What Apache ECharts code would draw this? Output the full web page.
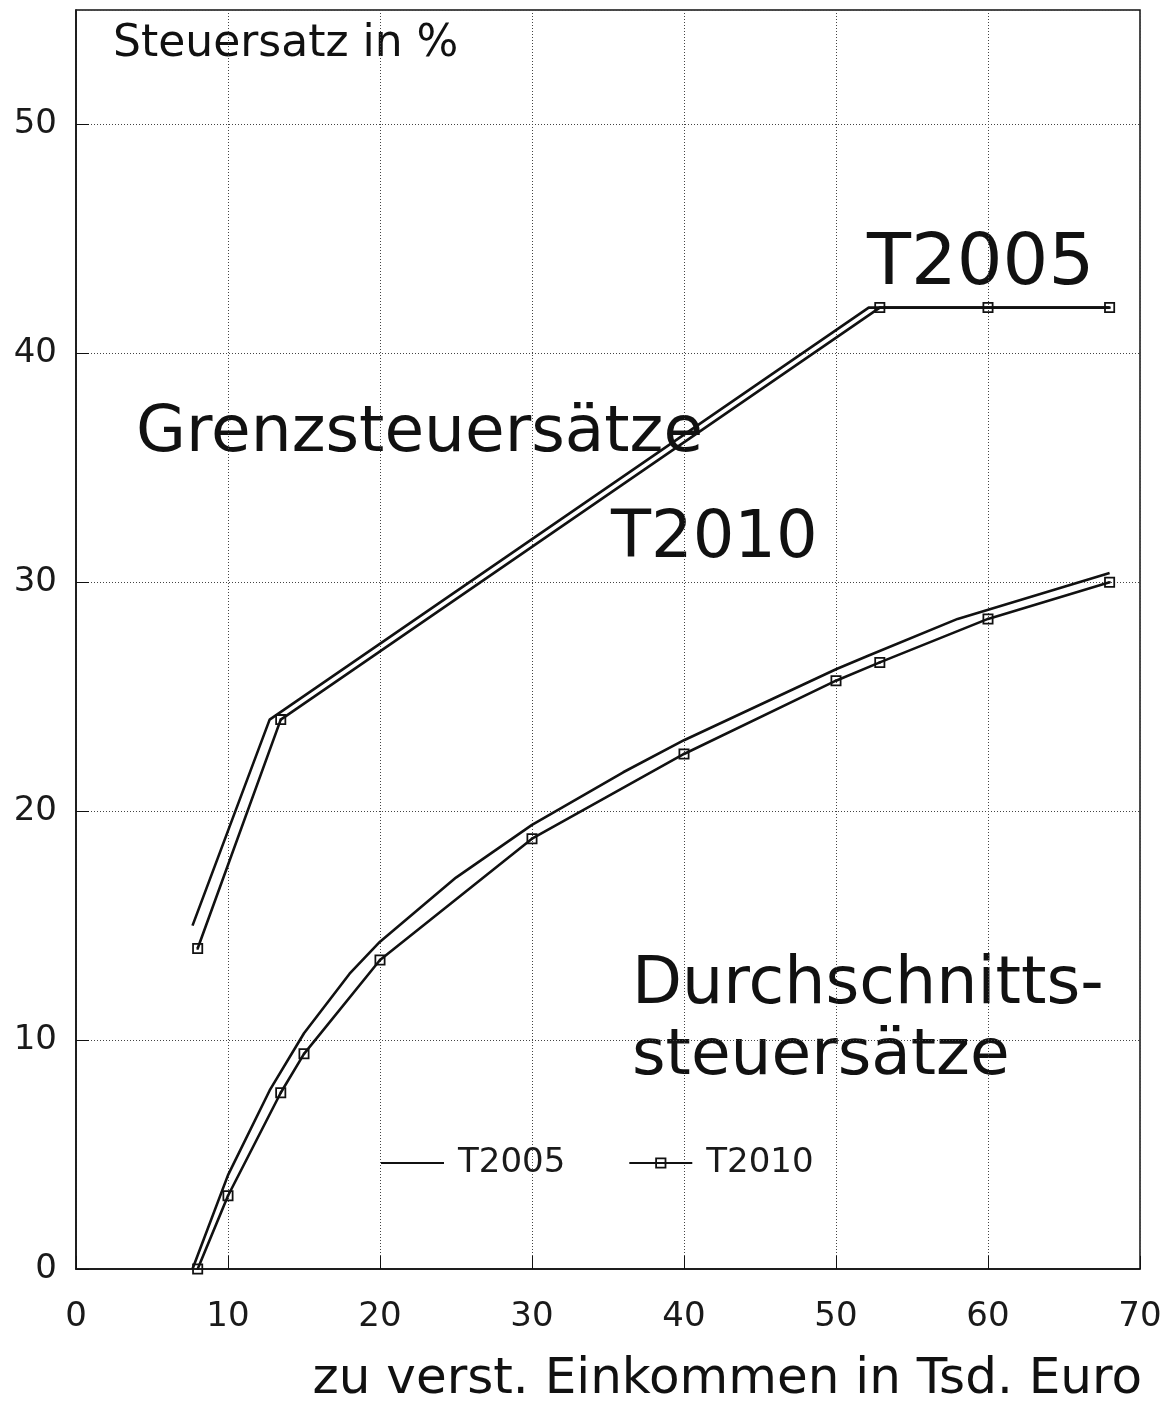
<!DOCTYPE html>
<html>
<head>
<meta charset="utf-8">
<script src="https://cdn.jsdelivr.net/npm/echarts@6/dist/echarts.min.js"></script>
<style>
html,body{margin:0;padding:0;background:#fff;}
#chart{width:1171px;height:1401px;}
</style>
</head>
<body>
<div id="chart"></div>
<script>
// Income in thousand Euro (x) and tax rates in % (y)
const xTicks = [0, 10, 20, 30, 40, 50, 60, 70];
const yTicks = [0, 10, 20, 30, 40, 50];

const incomeGrenz2005 = [7.664, 12.739, 52.152, 68];
const grenz2005 = [15, 24, 42, 42];

const incomeGrenz2010 = [8.004, 13.47, 52.882, 60, 68];
const grenz2010 = [14, 24, 42, 42, 42];

const incomeDurch2005 = [7.664, 10, 12.739, 15, 18, 20, 25, 30, 36, 40, 50, 52.152, 58, 68];
const durch2005 = [0, 4.1, 7.8, 10.3, 12.9, 14.3, 17.1, 19.4, 21.7, 23.1, 26.2, 26.8, 28.4, 30.4];

const incomeDurch2010 = [8.004, 10, 13.47, 15, 20, 30, 40, 50, 52.882, 60, 68];
const durch2010 = [0, 3.2, 7.7, 9.4, 13.5, 18.8, 22.5, 25.7, 26.5, 28.4, 30.0];

const zip = (xs, ys) => xs.map((x, i) => [x, ys[i]]);

const FONT = 'DejaVu Sans';
const markerPath = 'path://M0,0H10V10H0Z M1.6,1.6V8.4H8.4V1.6Z M4,4H6V6H4Z';

const chart = echarts.init(document.getElementById('chart'), null, {renderer: 'canvas'});

const lineStyle = {color: '#111', width: 2.6};

chart.setOption({
  backgroundColor: '#fff',
  animation: false,
  grid: {
    left: 76, top: 10, right: 31, bottom: 132,
    show: true, borderColor: '#111', borderWidth: 1.5, backgroundColor: 'transparent'
  },
  xAxis: {
    type: 'value', min: 0, max: 70, interval: 10,
    axisLine: {show: true, lineStyle: {color: '#111', width: 1.5}},
    axisTick: {show: true, inside: true, length: 13, lineStyle: {color: '#111', width: 1}},
    axisLabel: {
      margin: 31, color: '#1a1a1a', fontFamily: FONT, fontSize: 34,
      formatter: v => xTicks.includes(v) ? String(v) : ''
    },
    splitLine: {show: true, lineStyle: {color: '#444', width: 1, type: [1, 2]}}
  },
  yAxis: {
    type: 'value', min: 0, max: 55, interval: 10,
    axisLine: {show: true, lineStyle: {color: '#111', width: 1.5}},
    axisTick: {show: true, inside: true, length: 13, lineStyle: {color: '#111', width: 1}},
    axisLabel: {
      margin: 19, color: '#1a1a1a', fontFamily: FONT, fontSize: 34,
      showMaxLabel: false,
      formatter: v => yTicks.includes(v) ? String(v) : ''
    },
    splitLine: {show: true, lineStyle: {color: '#444', width: 1, type: [1, 2]}}
  },
  legend: {
    left: 380, top: 1146, padding: 0,
    itemWidth: 63, itemHeight: 14, itemGap: 63,
    textStyle: {fontFamily: FONT, fontSize: 34, color: '#1a1a1a', padding: [0, 0, 0, 9]},
    data: [
      {name: 'T2005', itemStyle: {color: 'rgba(0,0,0,0)', borderColor: 'rgba(0,0,0,0)', borderWidth: 0}},
      {name: 'T2010'}
    ]
  },
  series: [
    {
      name: 'T2005', type: 'line', data: zip(incomeGrenz2005, grenz2005),
      symbol: 'none', lineStyle: lineStyle, itemStyle: {color: '#111'}
    },
    {
      name: 'T2005', type: 'line', data: zip(incomeDurch2005, durch2005),
      symbol: 'none', lineStyle: lineStyle, itemStyle: {color: '#111'}
    },
    {
      name: 'T2010', type: 'line', data: zip(incomeGrenz2010, grenz2010),
      symbol: markerPath, symbolSize: 11, showSymbol: true,
      lineStyle: lineStyle, itemStyle: {color: '#111'}
    },
    {
      name: 'T2010', type: 'line', data: zip(incomeDurch2010, durch2010),
      symbol: markerPath, symbolSize: 11, showSymbol: true,
      lineStyle: lineStyle, itemStyle: {color: '#111'}
    }
  ],
  graphic: [
    {type: 'text', x: 113, y: 45, style: {text: 'Steuersatz in %', font: '44px "DejaVu Sans"', fill: '#111', verticalAlign: 'middle'}},
    {type: 'text', x: 867, y: 265, style: {text: 'T2005', font: '72px "DejaVu Sans"', fill: '#111', verticalAlign: 'middle'}},
    {type: 'text', x: 136, y: 434, style: {text: 'Grenzsteuersätze', font: '64.5px "DejaVu Sans"', fill: '#111', verticalAlign: 'middle'}},
    {type: 'text', x: 611, y: 540, style: {text: 'T2010', font: '65.5px "DejaVu Sans"', fill: '#111', verticalAlign: 'middle'}},
    {type: 'text', x: 632, y: 986, style: {text: 'Durchschnitts-', font: '65px "DejaVu Sans"', fill: '#111', verticalAlign: 'middle'}},
    {type: 'text', x: 632, y: 1057, style: {text: 'steuersätze', font: '64.5px "DejaVu Sans"', fill: '#111', verticalAlign: 'middle'}},
    {type: 'text', x: 1142, y: 1380, style: {text: 'zu verst. Einkommen in Tsd. Euro', font: '50px "DejaVu Sans"', fill: '#111', align: 'right', verticalAlign: 'middle'}}
  ]
});
</script>
</body>
</html>
